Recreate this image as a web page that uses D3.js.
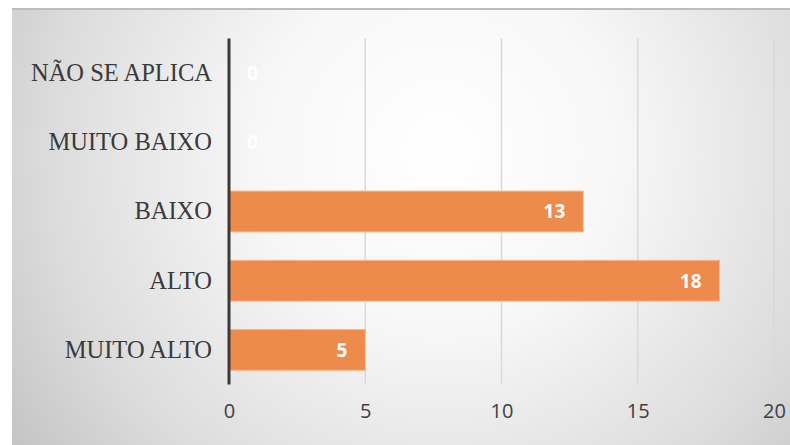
<!DOCTYPE html>
<html>
<head>
<meta charset="utf-8">
<script src="https://cdn.jsdelivr.net/npm/d3@7"></script>
<style>
  html, body { margin: 0; padding: 0; background: #ffffff; }
  svg { display: block; }
</style>
</head>
<body>
<svg id="chart" width="790" height="445"></svg>
<script>
// Categories from top to bottom and their counts
const categories = ["NÃO SE APLICA", "MUITO BAIXO", "BAIXO", "ALTO", "MUITO ALTO"];
const values = [0, 0, 13, 18, 5];
const tickValues = [0, 5, 10, 15, 20];

const svg = d3.select("#chart");
const W = 790, H = 445;

// Panel background: soft radial shading from a light centre to grey edges
const defs = svg.append("defs");
const grad = defs.append("radialGradient")
  .attr("id", "panelBg")
  .attr("gradientUnits", "userSpaceOnUse")
  .attr("cx", 440).attr("cy", 150).attr("r", 520);
grad.append("stop").attr("offset", "0%").attr("stop-color", "#ffffff");
grad.append("stop").attr("offset", "35%").attr("stop-color", "#f7f7f7");
grad.append("stop").attr("offset", "75%").attr("stop-color", "#dcdcdc");
grad.append("stop").attr("offset", "100%").attr("stop-color", "#c4c4c4");

svg.append("rect")
  .attr("x", 12).attr("y", 10).attr("width", W - 12).attr("height", H - 10)
  .attr("fill", "url(#panelBg)");
svg.append("line")
  .attr("x1", 12).attr("x2", W).attr("y1", 9).attr("y2", 9)
  .attr("stroke", "#bdbdbd").attr("stroke-width", 2);

const margin = { left: 229, right: 16, top: 38.5, bottom: 60.5 };
const x = d3.scaleLinear().domain([0, 20]).range([margin.left, W - margin.right]);
const y = d3.scaleBand().domain(categories)
  .range([margin.top, H - margin.bottom])
  .paddingInner(0.41).paddingOuter(0.205);

// Vertical gridlines
svg.append("g")
  .selectAll("line")
  .data(tickValues.filter(d => d > 0))
  .join("line")
  .attr("x1", d => x(d)).attr("x2", d => x(d))
  .attr("y1", margin.top).attr("y2", H - margin.bottom)
  .attr("stroke", "#d9d9d9").attr("stroke-width", 1.5);

// Bars
const rows = categories.map((c, i) => ({ cat: c, val: values[i] }));
svg.append("g")
  .selectAll("rect")
  .data(rows.filter(d => d.val > 0))
  .join("rect")
  .attr("x", x(0))
  .attr("y", d => y(d.cat))
  .attr("width", d => x(d.val) - x(0))
  .attr("height", y.bandwidth())
  .attr("fill", "#ed8b4c")
  .attr("stroke", "#f6b78c")
  .attr("stroke-width", 1);

// Value labels inside the bar end (after the axis for zero values)
svg.append("g")
  .selectAll("text")
  .data(rows)
  .join("text")
  .attr("x", d => d.val > 0 ? x(d.val) - 18 : x(0) + 18)
  .attr("y", d => y(d.cat) + y.bandwidth() / 2)
  .attr("dy", "0.36em")
  .attr("text-anchor", d => d.val > 0 ? "end" : "start")
  .attr("font-family", "'Open Sans', 'DejaVu Sans', sans-serif")
  .attr("font-weight", "bold")
  .attr("font-size", 19)
  .attr("fill", "#ffffff")
  .text(d => d.val);

// Category axis
const yAxis = d3.axisLeft(y).tickSize(0).tickPadding(17);
const gy = svg.append("g").attr("transform", `translate(${x(0)},0)`).call(yAxis);
gy.select(".domain").remove();
gy.selectAll("text")
  .attr("font-family", "'Liberation Serif', 'Times New Roman', serif")
  .attr("font-size", 24.5)
  .attr("fill", "#3a3a3a");

svg.append("line")
  .attr("x1", x(0)).attr("x2", x(0))
  .attr("y1", margin.top).attr("y2", H - margin.bottom)
  .attr("stroke", "#3a3a3a").attr("stroke-width", 3);

// Value axis tick labels
const xAxis = d3.axisBottom(x).tickValues(tickValues).tickSize(0).tickPadding(19);
const gx = svg.append("g").attr("transform", `translate(0,${H - margin.bottom})`).call(xAxis);
gx.select(".domain").remove();
gx.selectAll("text")
  .attr("font-family", "'Open Sans', 'DejaVu Sans', sans-serif")
  .attr("font-size", 20)
  .attr("fill", "#404040");
</script>
</body>
</html>
